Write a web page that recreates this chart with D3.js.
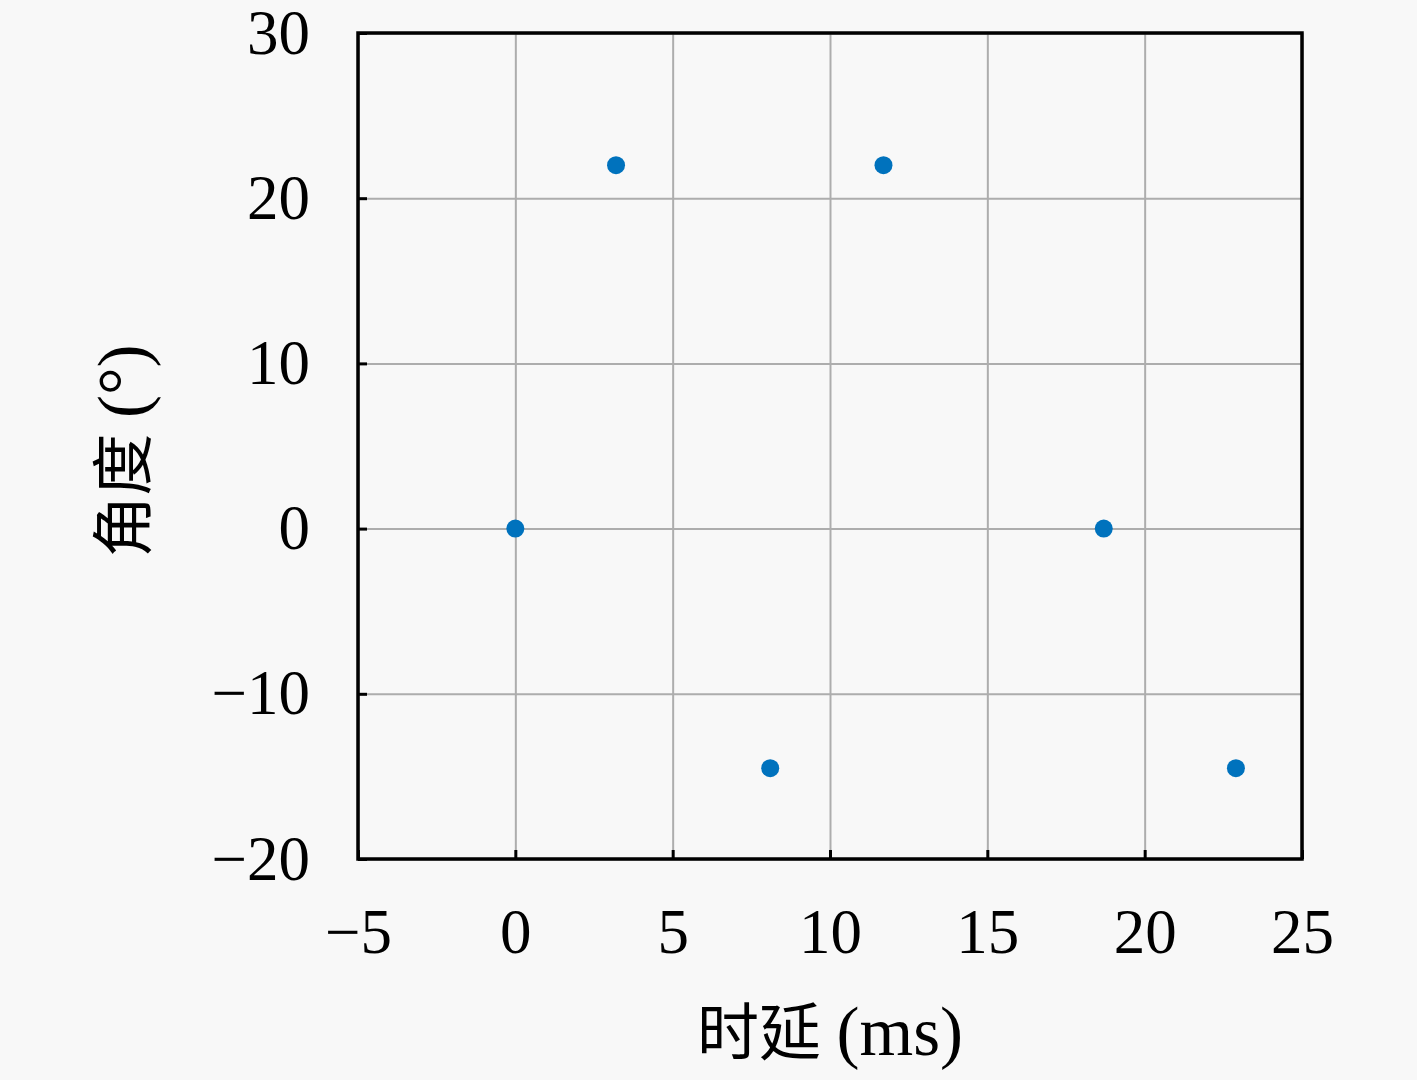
<!DOCTYPE html>
<html>
<head>
<meta charset="utf-8">
<script src="https://cdn.jsdelivr.net/npm/d3@7"></script>
<style>
  body { margin: 0; background: #f8f8f8; }
  svg { display: block; }
</style>
</head>
<body>
<div id="chart"></div>
<script>
// delay (ms) and angle (deg)
var delays = [0, 3.2, 8.1, 11.7, 18.7, 22.9];
var angles = [0, 22, -14.5, 22, 0, -14.5];
var xTicks = [-5, 0, 5, 10, 15, 20, 25];
var yTicks = [-20, -10, 0, 10, 20, 30];
var xLabel = ["时延 ", "(ms)"];
var yLabel = ["角度 ", "(°)"];

var points = delays.map(function(d, i) { return {t: d, a: angles[i]}; });

var margin = {top: 33, right: 115, bottom: 221, left: 358};
var width = 1417 - margin.left - margin.right;
var height = 1080 - margin.top - margin.bottom;
var font = "'Liberation Serif', 'Noto Sans CJK SC', serif";

var svg = d3.select("#chart").append("svg")
  .attr("width", 1417)
  .attr("height", 1080)
  .style("background", "#f8f8f8");

var g = svg.append("g")
  .attr("transform", "translate(" + margin.left + "," + margin.top + ")");

var xScale = d3.scaleLinear().domain([-5, 25]).range([0, width]);
var yScale = d3.scaleLinear().domain([-20, 30]).range([height, 0]);

// grid
g.append("g")
  .attr("class", "grid")
  .attr("transform", "translate(0," + height + ")")
  .call(d3.axisBottom(xScale).tickValues(xTicks).tickSize(-height).tickFormat(""))
  .call(function(s) { s.select(".domain").remove(); });
g.append("g")
  .attr("class", "grid")
  .call(d3.axisLeft(yScale).tickValues(yTicks).tickSize(-width).tickFormat(""))
  .call(function(s) { s.select(".domain").remove(); });
g.selectAll(".grid line").attr("stroke", "#adadad").attr("stroke-width", 2);

// axes, ticks pointing inward
var xAxis = g.append("g")
  .attr("transform", "translate(0," + height + ")")
  .call(d3.axisBottom(xScale).tickValues(xTicks).tickSize(-9).tickPadding(49));
var yAxis = g.append("g")
  .call(d3.axisLeft(yScale).tickValues(yTicks).tickSize(-9).tickPadding(48));

[xAxis, yAxis].forEach(function(ax) {
  ax.select(".domain").remove();
  ax.selectAll(".tick line").attr("stroke", "#000").attr("stroke-width", 3);
  ax.selectAll(".tick text")
    .attr("fill", "#000")
    .style("font-family", font)
    .style("font-size", "63px");
});
xAxis.selectAll(".tick text").attr("dy", "0.71em");
yAxis.selectAll(".tick text").attr("dy", "0.32em");

// frame
g.append("rect")
  .attr("width", width)
  .attr("height", height)
  .attr("fill", "none")
  .attr("stroke", "#000")
  .attr("stroke-width", 3.5);

// points
g.selectAll(".dot")
  .data(points)
  .enter().append("circle")
  .attr("class", "dot")
  .attr("cx", function(d) { return xScale(d.t); })
  .attr("cy", function(d) { return yScale(d.a); })
  .attr("r", 9)
  .attr("fill", "#0072bd");

// axis titles
function title(sel, parts) {
  sel.attr("text-anchor", "middle")
    .style("font-family", font)
    .style("font-size", "62px");
  sel.append("tspan").text(parts[0]);
  sel.append("tspan").style("font-size", "69px").text(parts[1]);
}

svg.append("text")
  .attr("x", margin.left + width / 2)
  .attr("y", 1055)
  .call(title, xLabel);

svg.append("text")
  .attr("transform", "translate(146," + (margin.top + height / 2 + 5) + ") rotate(-90)")
  .call(title, yLabel);
</script>
</body>
</html>
